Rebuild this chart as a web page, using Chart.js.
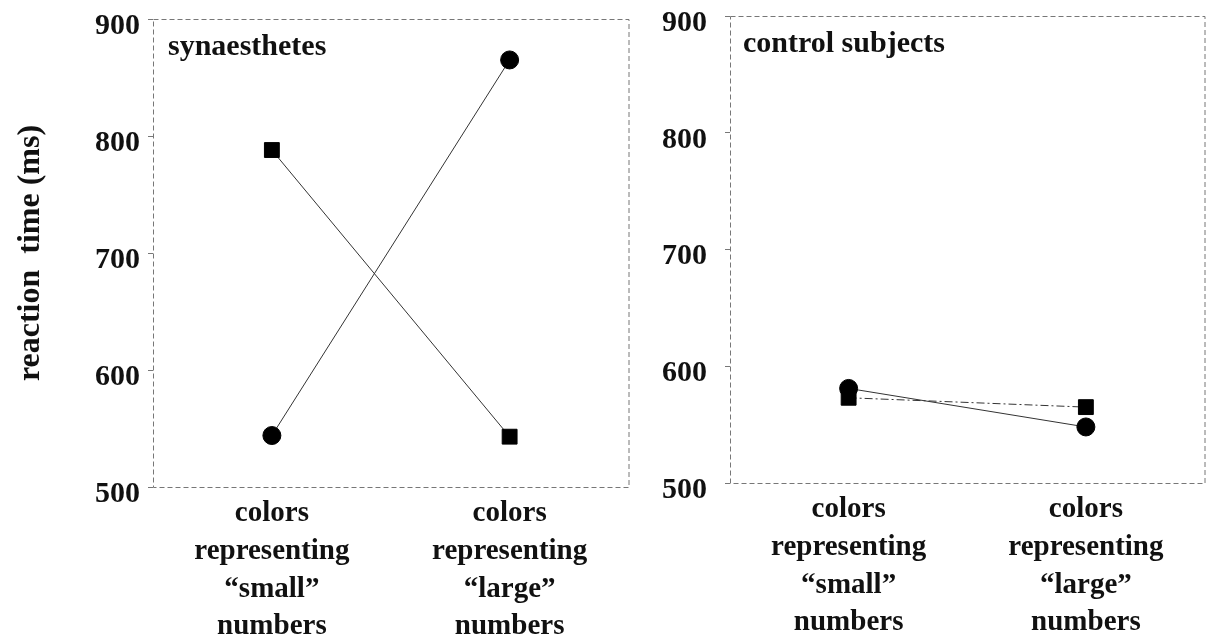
<!DOCTYPE html>
<html>
<head>
<meta charset="utf-8">
<script src="https://cdn.jsdelivr.net/npm/chart.js@4.4.1/dist/chart.umd.min.js"></script>
<style>
  body { margin: 0; background: #fff; }
  .panel { position: absolute; top: 0; height: 638px; }
  #left { left: 0; width: 640px; }
  #right { left: 640px; width: 576px; }
</style>
</head>
<body>
<div class="panel" id="left"><canvas id="synChart"></canvas></div>
<div class="panel" id="right"><canvas id="ctlChart"></canvas></div>
<script>
const categories = [
  ['colors', 'representing', '\u201csmall\u201d', 'numbers'],
  ['colors', 'representing', '\u201clarge\u201d', 'numbers']
];
const synSquare = [788, 543];
const synCircle = [544, 865];
const ctlSquare = [573, 565];
const ctlCircle = [581, 548];
const yMin = 500, yMax = 900, yStep = 100;

const serif = '"Liberation Serif", "Times New Roman", serif';

// dashed frame round the plot area + panel name in the corner
const framePlugin = {
  id: 'frame',
  afterDraw(chart, args, opts) {
    const a = chart.chartArea, ctx = chart.ctx;
    ctx.save();
    ctx.strokeStyle = '#777';
    ctx.lineWidth = 1;
    ctx.setLineDash([5, 3]);
    ctx.strokeRect(a.left + 0.5, a.top + 0.5, a.right - a.left, a.bottom - a.top);
    ctx.setLineDash([]);
    ctx.fillStyle = '#111';
    ctx.font = 'bold 30px ' + serif;
    ctx.textBaseline = 'alphabetic';
    ctx.fillText(opts.text, a.left + opts.dx, a.top + 36);
    ctx.restore();
  }
};

function makePanel(id, squares, circles, squareDash, opt) {
  new Chart(id, {
    type: 'line',
    data: {
      labels: categories,
      datasets: [{
        data: squares,
        borderColor: '#333',
        borderWidth: 1,
        borderDash: squareDash,
        pointStyle: 'rect',
        pointRadius: 10.5,
        pointBackgroundColor: '#000',
        pointBorderColor: '#000',
        tension: 0
      }, {
        data: circles,
        borderColor: '#333',
        borderWidth: 1,
        pointStyle: 'circle',
        pointRadius: 9,
        pointBackgroundColor: '#000',
        pointBorderColor: '#000',
        tension: 0
      }]
    },
    options: {
      responsive: false,
      animation: false,
      layout: { padding: { top: opt.top, right: 8 } },
      plugins: {
        legend: { display: false },
        tooltip: { enabled: false },
        frame: { text: opt.name, dx: opt.dx }
      },
      scales: {
        x: {
          offset: true,
          grid: { display: false },
          border: { display: false },
          ticks: {
            color: '#111',
            font: { family: serif, weight: 'bold', size: 29, lineHeight: 1.3 },
            padding: 0,
            maxRotation: 0,
            autoSkip: false
          },
          afterFit(s) { s.height = opt.xHeight; }
        },
        y: {
          min: yMin,
          max: yMax,
          grid: { drawOnChartArea: false, tickLength: 5, color: '#777' },
          border: { display: false },
          ticks: {
            stepSize: yStep,
            color: '#111',
            font: { family: serif, weight: 'bold', size: 30 },
            padding: opt.tickPad,
            labelOffset: 7
          },
          title: {
            display: opt.showTitle,
            text: 'reaction  time (ms)',
            color: '#111',
            font: { family: serif, weight: 'bold', size: 32 },
            padding: { top: 12, bottom: 0 }
          },
          afterFit(s) {
            s.width = opt.yWidth;
            s.paddingTop = 0;
            s.paddingBottom = 0;
          }
        }
      }
    },
    plugins: [framePlugin]
  });
}

document.getElementById('synChart').width = 640;
document.getElementById('synChart').height = 638;
document.getElementById('ctlChart').width = 576;
document.getElementById('ctlChart').height = 638;

makePanel('synChart', synSquare, synCircle, [],
  { top: 19, yWidth: 153, xHeight: 151, tickPad: 8, name: 'synaesthetes', dx: 15, showTitle: true });
makePanel('ctlChart', ctlSquare, ctlCircle, [8, 3, 2, 3],
  { top: 16, yWidth: 90, xHeight: 155, tickPad: 18, name: 'control subjects', dx: 13, showTitle: false });
</script>
</body>
</html>
